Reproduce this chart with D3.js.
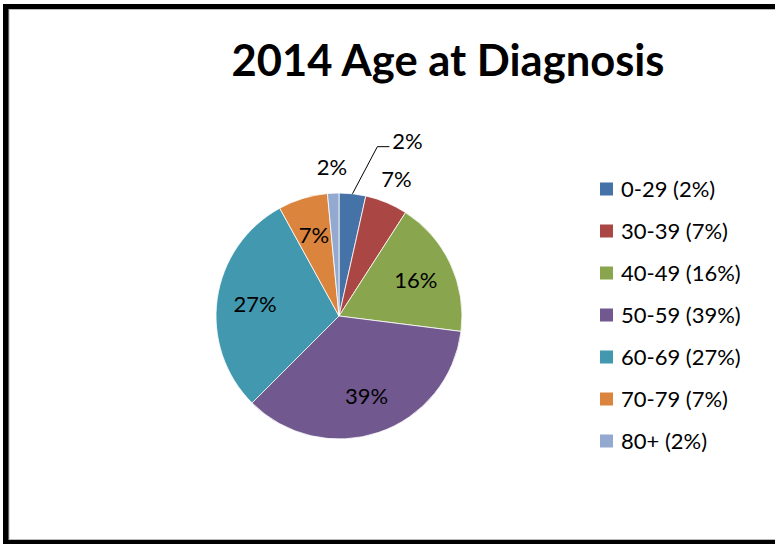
<!DOCTYPE html>
<html>
<head>
<meta charset="utf-8">
<script src="https://cdn.jsdelivr.net/npm/d3@7"></script>
<style>
  html, body { margin: 0; padding: 0; background: #fff; }
  svg { display: block; font-family: Lato, "Open Sans", sans-serif; }
</style>
</head>
<body>
<svg id="chart" width="775" height="544"></svg>
<script>
const ageGroups = ['0-29', '30-39', '40-49', '50-59', '60-69', '70-79', '80+'];
const sliceValues = [3.5, 5.6, 17.9, 35.5, 29.5, 6.5, 1.5];
const labelPercents = [2, 7, 16, 39, 27, 7, 2];
const sliceColors = ['#4572A7', '#AA4643', '#89A54E', '#71588F', '#4198AF', '#DB843D', '#93A9CF'];
const titleText = '2014 Age at Diagnosis';

const svg = d3.select('#chart');
const width = +svg.attr('width');
const height = +svg.attr('height');

// frame: thick black outer edge, thin grey inner line
svg.append('rect')
  .attr('x', 3).attr('y', 4)
  .attr('width', width + 20).attr('height', height)
  .attr('fill', '#000');
svg.append('rect')
  .attr('x', 9).attr('y', 9.5)
  .attr('width', width + 20).attr('height', 530)
  .attr('fill', '#fff')
  .attr('stroke', '#bbb')
  .attr('stroke-width', 1);

// title
svg.append('text')
  .attr('x', 448)
  .attr('y', 76)
  .attr('text-anchor', 'middle')
  .attr('font-size', 43)
  .attr('font-weight', 'bold')
  .attr('fill', '#000')
  .attr('textLength', 433)
  .attr('lengthAdjust', 'spacingAndGlyphs')
  .text(titleText);

/* pie */
const cx = 339, cy = 316, radius = 123;
const color = d3.scaleOrdinal().domain(ageGroups).range(sliceColors);
const pie = d3.pie().sort(null).value(d => d.value);
const arc = d3.arc().innerRadius(0).outerRadius(radius);

const rows = ageGroups.map((g, i) => ({ group: g, value: sliceValues[i], pct: labelPercents[i] }));
const arcs = pie(rows);

const pieG = svg.append('g').attr('transform', `translate(${cx},${cy})`);
pieG.selectAll('path')
  .data(arcs)
  .enter().append('path')
    .attr('d', arc)
    .attr('fill', d => color(d.data.group))
    .attr('stroke', '#fff')
    .attr('stroke-width', 0.8);

// label placement: inside for bigger slices, outside for small ones
const polar = (a, r) => [r * Math.sin(a), -r * Math.cos(a)];
const total = d3.sum(sliceValues);
const labels = arcs.map(d => {
  const mid = (d.startAngle + d.endAngle) / 2;
  const inside = d.data.value / total > 0.06;
  const pos = polar(mid, radius * (inside ? 0.69 : 1.21));
  return { d, mid, inside, pos, leader: false };
});
// an outside label squeezed between two others gets pushed out with a leader line
const outside = labels.filter(l => !l.inside);
outside.forEach(l => {
  const close = outside.filter(o => o !== l && Math.hypot(o.pos[0] - l.pos[0], o.pos[1] - l.pos[1]) < 45);
  if (close.length >= 2) {
    l.pos = polar(l.mid + 15 * Math.PI / 180, radius * 1.53);
    l.leader = true;
  }
});

const labelSize = 22;
labels.filter(l => l.leader).forEach(l => {
  const start = polar(l.mid, radius);
  const halfW = 16;
  const ly = l.pos[1] + 6;
  pieG.append('path')
    .attr('d', d3.line()([start, [l.pos[0] - halfW - 14, ly], [l.pos[0] - halfW - 2, ly]]))
    .attr('fill', 'none')
    .attr('stroke', '#000')
    .attr('stroke-width', 1);
});

pieG.selectAll('text.label')
  .data(labels)
  .enter().append('text')
    .attr('class', 'label')
    .attr('x', l => l.pos[0])
    .attr('y', l => l.pos[1])
    .attr('dy', '0.36em')
    .attr('text-anchor', 'middle')
    .attr('font-size', labelSize)
    .attr('fill', '#000')
    .text(l => l.d.data.pct + '%');

/* legend */
const legendY = d3.scalePoint().domain(ageGroups).range([189, 441]);
const legend = svg.append('g').attr('class', 'legend');
const item = legend.selectAll('g')
  .data(rows)
  .enter().append('g')
    .attr('transform', d => `translate(600,${legendY(d.group)})`);
item.append('rect')
  .attr('x', 0).attr('y', -6.5)
  .attr('width', 13).attr('height', 13)
  .attr('fill', d => color(d.group));
item.append('text')
  .attr('x', 21)
  .attr('y', 0)
  .attr('dy', '0.36em')
  .attr('font-size', labelSize)
  .attr('fill', '#000')
  .text(d => `${d.group} (${d.pct}%)`);
</script>
</body>
</html>
